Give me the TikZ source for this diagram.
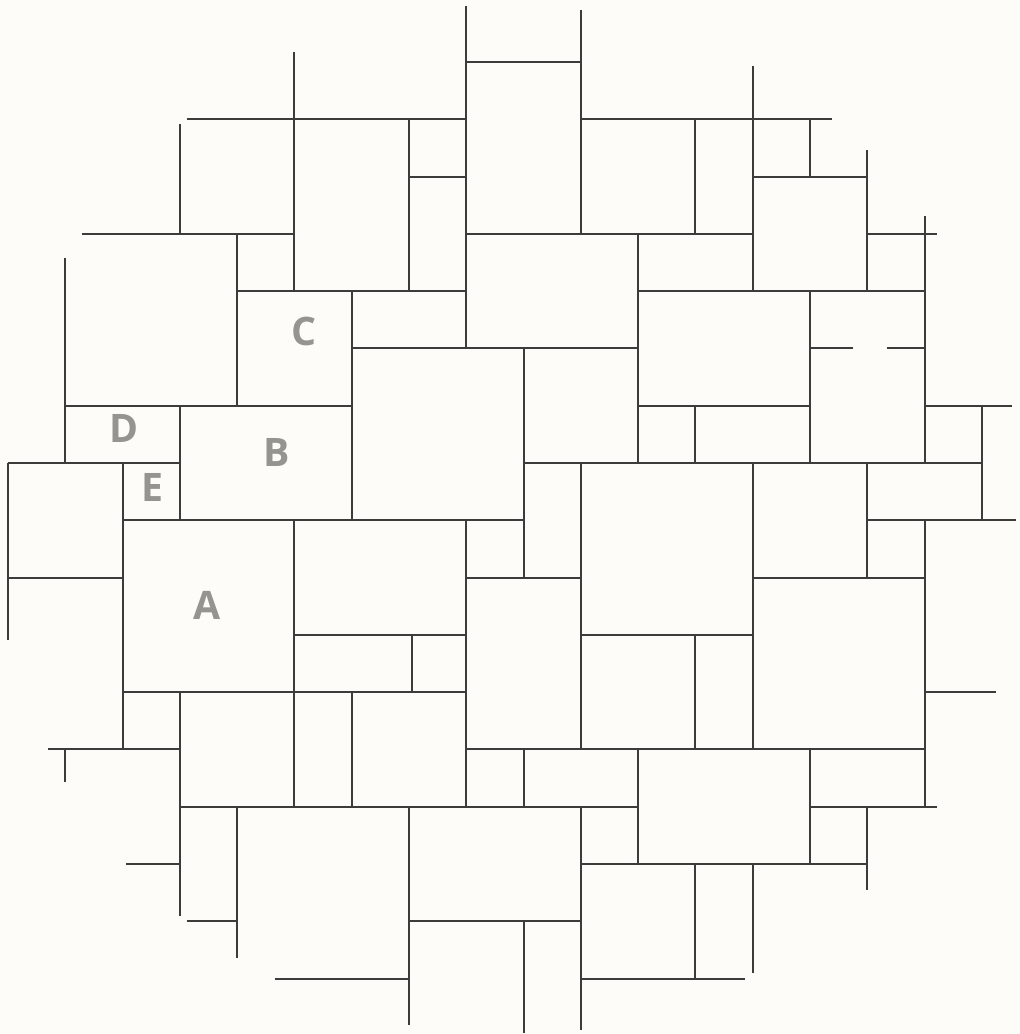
\documentclass[tikz,border=0pt]{standalone}
\usepackage{fontspec}
\setmainfont{Open Sans}
\usepackage{xcolor}
\definecolor{paper}{RGB}{254,252,248}
\definecolor{seamgray}{RGB}{62,60,58}
\definecolor{taggray}{RGB}{150,148,144}
\usepackage{tikz}

\begin{document}
\begin{tikzpicture}[x=1cm,y=-1cm]
	\tikzstyle{seam}=[draw=seamgray,line width=1pt];
	\tikzstyle{tag}=[text=taggray,font=\fontsize{19.5}{19.5}\selectfont\bfseries,inner sep=0pt];
	%% paper
	\fill[paper] (-0.14,-0.082) rectangle (17.66,17.96);
	%% horizontal seams
	\draw[seam] (8,1) -- (10,1);
	\draw[seam] (3.12,2) -- (8,2);
	\draw[seam] (10,2) -- (14.38,2);
	\draw[seam] (7,3) -- (8,3);
	\draw[seam] (13,3) -- (15,3);
	\draw[seam] (1.29,4) -- (5,4);
	\draw[seam] (8,4) -- (13,4);
	\draw[seam] (15,4) -- (16.21,4);
	\draw[seam] (4,5) -- (8,5);
	\draw[seam] (11,5) -- (16,5);
	\draw[seam] (6,6) -- (11,6);
	\draw[seam] (14,6) -- (14.75,6);
	\draw[seam] (15.34,6) -- (16,6);
	\draw[seam] (1,7) -- (6,7);
	\draw[seam] (11,7) -- (14,7);
	\draw[seam] (16,7) -- (17.52,7);
	\draw[seam] (0,8) -- (3,8);
	\draw[seam] (9,8) -- (17,8);
	\draw[seam] (2,9) -- (9,9);
	\draw[seam] (15,9) -- (17.6,9);
	\draw[seam] (0,10) -- (2,10);
	\draw[seam] (8,10) -- (10,10);
	\draw[seam] (13,10) -- (16,10);
	\draw[seam] (5,11) -- (8,11);
	\draw[seam] (10,11) -- (13,11);
	\draw[seam] (2,12) -- (8,12);
	\draw[seam] (16,12) -- (17.24,12);
	\draw[seam] (0.70,13) -- (3,13);
	\draw[seam] (8,13) -- (16,13);
	\draw[seam] (3,14) -- (11,14);
	\draw[seam] (14,14) -- (16.21,14);
	\draw[seam] (2.06,15) -- (3,15);
	\draw[seam] (10,15) -- (15,15);
	\draw[seam] (3.12,16) -- (4,16);
	\draw[seam] (7,16) -- (10,16);
	\draw[seam] (4.66,17) -- (7,17);
	\draw[seam] (10,17) -- (12.86,17);
	%% vertical seams
	\draw[seam] (0,8) -- (0,11.09);
	\draw[seam] (1,4.42) -- (1,8);
	\draw[seam] (1,13) -- (1,13.57);
	\draw[seam] (2,8) -- (2,13);
	\draw[seam] (3,2.08) -- (3,4);
	\draw[seam] (3,7) -- (3,9);
	\draw[seam] (3,12) -- (3,15.9);
	\draw[seam] (4,4) -- (4,7);
	\draw[seam] (4,14) -- (4,16.64);
	\draw[seam] (5,0.83) -- (5,5);
	\draw[seam] (5,9) -- (5,14);
	\draw[seam] (6,5) -- (6,9);
	\draw[seam] (6,12) -- (6,14);
	\draw[seam] (7,2) -- (7,5);
	\draw[seam] (7.06,11) -- (7.06,12);
	\draw[seam] (7,14) -- (7,17.81);
	\draw[seam] (8,0.02) -- (8,6);
	\draw[seam] (8,9) -- (8,14);
	\draw[seam] (9,6) -- (9,10);
	\draw[seam] (9,13) -- (9,14);
	\draw[seam] (9,16) -- (9,17.95);
	\draw[seam] (10,0.09) -- (10,4);
	\draw[seam] (10,8) -- (10,13);
	\draw[seam] (10,14) -- (10,17.9);
	\draw[seam] (11,4) -- (11,8);
	\draw[seam] (11,13) -- (11,15);
	\draw[seam] (12,2) -- (12,4);
	\draw[seam] (12,7) -- (12,8);
	\draw[seam] (12,11) -- (12,13);
	\draw[seam] (12,15) -- (12,17);
	\draw[seam] (13,1.07) -- (13,5);
	\draw[seam] (13,8) -- (13,13);
	\draw[seam] (13,15) -- (13,16.9);
	\draw[seam] (14,2) -- (14,3);
	\draw[seam] (14,5) -- (14,8);
	\draw[seam] (14,13) -- (14,15);
	\draw[seam] (15,2.54) -- (15,5);
	\draw[seam] (15,8) -- (15,10);
	\draw[seam] (15,14) -- (15,15.45);
	\draw[seam] (16,3.69) -- (16,8);
	\draw[seam] (16,9) -- (16,14);
	\draw[seam] (17,7) -- (17,9);
	%% Labels
	\node[tag] (stoneC) at (5.17,5.71) {C};
	\node[tag] (stoneB) at (4.69,7.82) {B};
	\node[tag] (stoneD) at (2.02,7.40) {D};
	\node[tag] (stoneE) at (2.52,8.43) {E};
	\node[tag] (stoneA) at (3.47,10.49) {A};
\end{tikzpicture}
\end{document}
